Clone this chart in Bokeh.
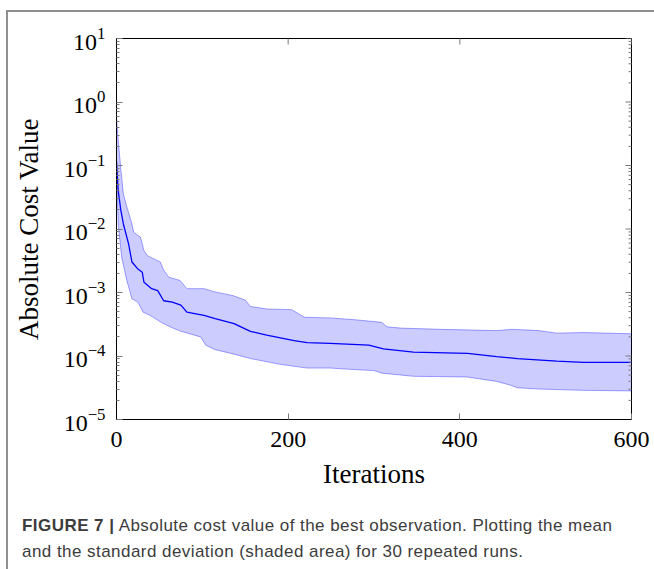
import math
from bokeh.plotting import figure
from bokeh.models import FixedTicker, Range1d, Div
from bokeh.layouts import column
from bokeh.embed import file_html
from bokeh.resources import INLINE

# Mean of the best absolute cost value over 30 runs
mean_x = [0, 2, 5, 8, 14, 18, 25, 30, 32, 41, 48, 55, 65, 75, 82, 102, 115, 137,
          156, 175, 207, 222, 249, 294, 311, 346, 409, 443, 467, 513, 544, 600]
mean_y = [1.15e-1, 3.98e-2, 2.00e-2, 1.20e-2, 5.89e-3, 3.02e-3, 2.34e-3, 2.09e-3,
          1.45e-3, 1.15e-3, 1.07e-3, 7.41e-4, 7.08e-4, 6.31e-4, 4.90e-4, 4.37e-4,
          3.89e-4, 3.24e-4, 2.45e-4, 2.14e-4, 1.74e-4, 1.62e-4, 1.58e-4, 1.48e-4,
          1.29e-4, 1.15e-4, 1.10e-4, 9.77e-5, 9.12e-5, 8.32e-5, 7.94e-5, 7.94e-5]

# Mean + standard deviation
upper_x = [0, 2, 5, 8, 12, 18, 20, 28, 32, 36, 51, 55, 61, 74, 82, 102, 115, 136,
           150, 156, 175, 204, 219, 249, 278, 309, 315, 331, 377, 443, 461, 492,
           513, 544, 600]
upper_y = [5.75e-1, 2.51e-1, 8.91e-2, 3.55e-2, 2.24e-2, 1.20e-2, 8.91e-3, 7.41e-3,
           4.57e-3, 3.80e-3, 3.02e-3, 2.24e-3, 1.74e-3, 1.55e-3, 1.15e-3, 1.15e-3,
           1.02e-3, 8.91e-4, 7.59e-4, 6.03e-4, 5.50e-4, 5.37e-4, 4.07e-4, 3.98e-4,
           3.72e-4, 3.39e-4, 2.88e-4, 2.75e-4, 2.63e-4, 2.51e-4, 2.63e-4, 2.51e-4,
           2.29e-4, 2.34e-4, 2.24e-4]

# Mean - standard deviation
lower_x = [0, 2, 6, 12, 18, 25, 31, 39, 52, 64, 75, 98, 104, 115, 137, 156, 179,
           190, 222, 249, 272, 300, 309, 346, 408, 443, 459, 467, 492, 544, 600]
lower_y = [7.94e-2, 1.20e-2, 3.63e-3, 1.55e-3, 7.94e-4, 7.08e-4, 4.90e-4, 4.37e-4,
           3.39e-4, 2.82e-4, 2.45e-4, 2.00e-4, 1.48e-4, 1.26e-4, 1.07e-4, 9.12e-5,
           7.94e-5, 7.41e-5, 6.46e-5, 6.46e-5, 6.17e-5, 5.89e-5, 5.37e-5, 4.79e-5,
           4.68e-5, 3.98e-5, 3.47e-5, 3.16e-5, 3.02e-5, 2.88e-5, 2.82e-5]

x_ticks = [0, 200, 400, 600]
y_ticks = [1e-5, 1e-4, 1e-3, 1e-2, 1e-1, 1e0, 1e1]
y_minor = [m * t for t in y_ticks[:-1] for m in range(2, 10)]

x_label = "Iterations"
y_label = "Absolute Cost Value"
caption_bold = "FIGURE 7 |"
caption_1 = "Absolute cost value of the best observation. Plotting the mean"
caption_2 = "and the standard deviation (shaded area) for 30 repeated runs."

SERIF = "Liberation Serif"
SANS = "Liberation Sans"
BLUE = "#0000ff"
TICK = "#7a7a7a"
X0, X1 = 0, 600
Y0, Y1 = 1e-5, 1e1

p = figure(width=646, height=483, y_axis_type="log",
           x_range=Range1d(X0, X1), y_range=Range1d(Y0, Y1),
           output_backend="svg", toolbar_location=None,
           min_border_left=108, min_border_right=23,
           min_border_top=26, min_border_bottom=76)
p.grid.visible = False
p.outline_line_color = "black"
p.outline_line_width = 1
p.background_fill_color = "white"
p.border_fill_color = "white"

# shaded std band
p.patch(x=upper_x + lower_x[::-1], y=upper_y + lower_y[::-1],
        fill_color=BLUE, fill_alpha=0.2, line_color=None)
p.line(upper_x, upper_y, line_color=BLUE, line_alpha=0.35, line_width=1)
p.line(lower_x, lower_y, line_color=BLUE, line_alpha=0.35, line_width=1)
p.line(mean_x, mean_y, line_color=BLUE, line_width=1.3)

# mirrored inward ticks on the top and right edges (clipped half-dashes)
p.scatter(x=[X1] * len(y_ticks), y=y_ticks, marker="dash", size=12,
          line_color=TICK, line_width=1)
p.scatter(x=[X1] * len(y_minor), y=y_minor, marker="dash", size=6,
          line_color=TICK, line_width=1)
p.scatter(x=x_ticks, y=[Y1] * len(x_ticks), marker="dash", size=12,
          angle=math.pi / 2, line_color=TICK, line_width=1)


def style(ax):
    ax.axis_line_color = "black"
    ax.major_tick_in = 6
    ax.major_tick_out = 0
    ax.minor_tick_out = 0
    ax.major_tick_line_color = TICK
    ax.minor_tick_line_color = TICK
    ax.major_label_text_font = SERIF
    ax.major_label_text_color = "black"
    ax.major_label_text_font_size = "24px"
    ax.axis_label_text_font = SERIF
    ax.axis_label_text_font_style = "normal"
    ax.axis_label_text_font_size = "27px"
    ax.axis_label_text_color = "black"


xb = p.xaxis[0]
xb.ticker = FixedTicker(ticks=x_ticks)
style(xb)
xb.minor_tick_in = 0
xb.major_label_standoff = 12
xb.axis_label = x_label
xb.axis_label_standoff = 9

yl = p.yaxis[0]
yl.ticker = FixedTicker(ticks=y_ticks, minor_ticks=y_minor)
style(yl)
yl.minor_tick_in = 3
yl.major_label_standoff = 11
yl.axis_label = y_label
yl.axis_label_standoff = 17

caption = Div(
    text=f"<b>{caption_bold}</b> {caption_1}<br>{caption_2}",
    width=646, height=74, margin=0,
    styles={"font-family": SANS, "font-size": "17px", "color": "#3c3c3c",
            "letter-spacing": "0.45px",
            "line-height": "26px", "padding-left": "14px",
            "padding-top": "18px", "white-space": "nowrap",
            "box-sizing": "border-box"})

layout = column(p, caption, margin=(10, 0, 0, 6), spacing=0,
                styles={"border-left": "2px solid #8f8f8f",
                        "border-top": "2px solid #8f8f8f"})

open("out.html", "w").write(file_html(layout, INLINE))
